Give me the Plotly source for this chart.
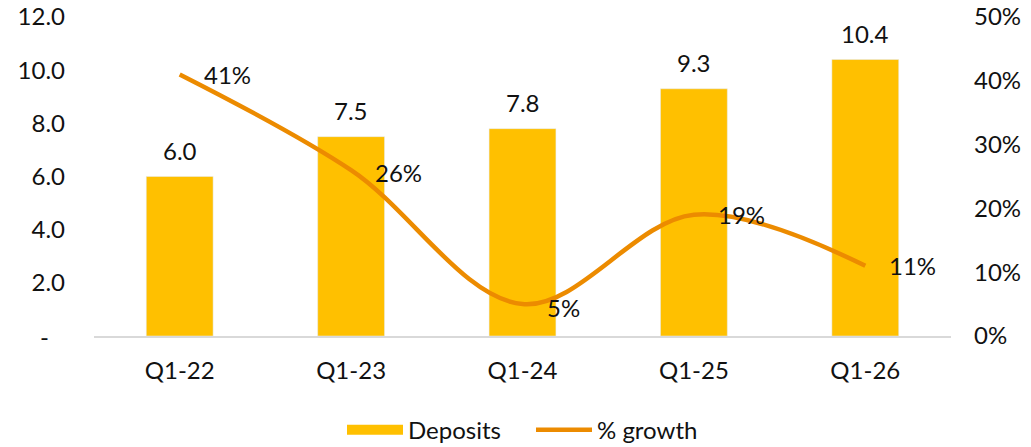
import plotly.graph_objects as go

categories = ["Q1-22", "Q1-23", "Q1-24", "Q1-25", "Q1-26"]
deposits = [6.0, 7.5, 7.8, 9.3, 10.4]
growth = [0.41, 0.26, 0.05, 0.19, 0.11]
left_ticks = [2, 4, 6, 8, 10, 12]
left_ticktext = ["2.0", "4.0", "6.0", "8.0", "10.0", "12.0"]
zero_label = "-"
right_ticks = [0, 0.1, 0.2, 0.3, 0.4, 0.5]
right_ticktext = ["0%", "10%", "20%", "30%", "40%", "50%"]

FONT = "Lato, Calibri, Noto Sans, sans-serif"
FS = 24
BAR = "#FFC000"
LINE = "#EC8B00"
TXT = "#111111"

fig = go.Figure()
fig.add_trace(go.Bar(
    x=categories, y=deposits, name="Deposits",
    marker_color=BAR, width=0.39, showlegend=False,
))
# legend-only entry giving a wide rectangular swatch for the bars
fig.add_trace(go.Scatter(
    x=[None], y=[None], name="Deposits", mode="lines",
    line=dict(color=BAR, width=11), showlegend=True, legendwidth=118,
))
fig.add_trace(go.Scatter(
    x=categories, y=growth, name="% growth", yaxis="y2",
    mode="lines", line=dict(color=LINE, width=4.5, shape="spline", smoothing=1.0),
    cliponaxis=False,
))

for c, v in zip(categories, deposits):
    fig.add_annotation(x=c, y=v, xref="x", yref="y", text=f"{v:.1f}",
                       showarrow=False, yanchor="bottom", yshift=10,
                       font=dict(size=FS, color=TXT, family=FONT))
yshifts = [0, -2, -3, 0, 0]
for c, v, ys in zip(categories, growth, yshifts):
    fig.add_annotation(x=c, y=v, xref="x", yref="y2", text=f"{round(v*100)}%",
                       showarrow=False, xanchor="left", xshift=22, yshift=ys,
                       font=dict(size=FS, color=TXT, family=FONT))
# zero label of the left axis (Excel accounting style dash, padded)
fig.add_annotation(x=0, y=0, xref="paper", yref="y", text=zero_label,
                   showarrow=False, xanchor="center", xshift=-50,
                   font=dict(size=FS, color=TXT, family=FONT))

fig.update_layout(
    width=1031, height=447,
    margin=dict(l=94, r=80, t=17, b=111, autoexpand=False),
    paper_bgcolor="white", plot_bgcolor="white",
    font=dict(family=FONT, size=FS, color=TXT),
    showlegend=True,
    legend=dict(orientation="h", x=0.5, xanchor="center", y=-0.295, yanchor="middle",
                font=dict(size=FS), itemwidth=56),
    xaxis=dict(showgrid=False, showline=True, linecolor="#D9D9D9", linewidth=1.5,
               ticks="", tickfont=dict(size=FS), ticklabelstandoff=12, automargin=False),
    yaxis=dict(range=[0, 12], tickvals=left_ticks, ticktext=left_ticktext,
               showgrid=False, zeroline=False, showline=False, ticks="",
               tickfont=dict(size=FS), ticklabelstandoff=28, automargin=False),
    yaxis2=dict(range=[0, 0.5], tickvals=right_ticks, ticktext=right_ticktext,
                overlaying="y", side="right", showgrid=False, zeroline=False,
                showline=False, ticks="", tickfont=dict(size=FS), ticklabelstandoff=22,
                automargin=False),
    bargap=0.6,
)

fig.write_html("out.html", config={"displayModeBar": False},
               post_script="document.body.style.margin='0';document.body.style.overflow='hidden';")
